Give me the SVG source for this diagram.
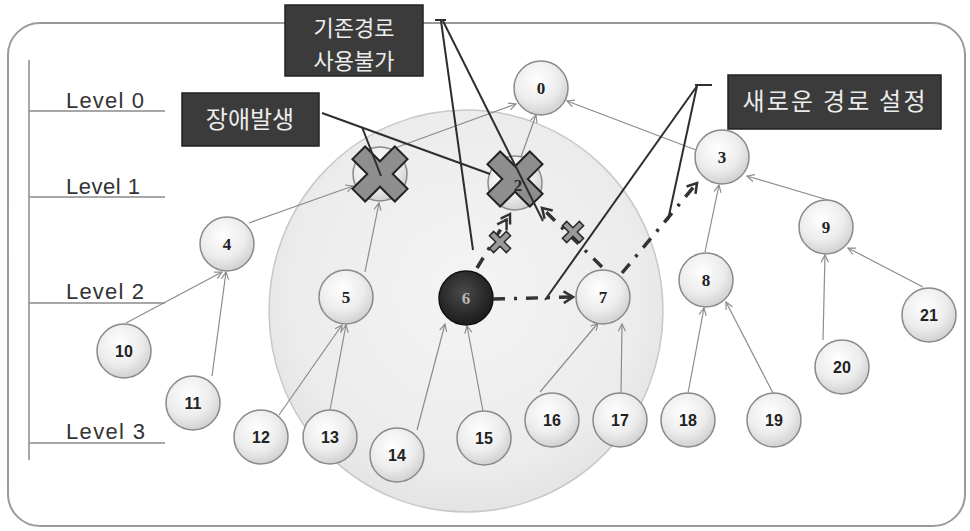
<svg xmlns="http://www.w3.org/2000/svg" width="970" height="531" viewBox="0 0 970 531">
<style>
.lvl{font-family:"Liberation Sans",Arial,sans-serif;font-size:22px;fill:#333}
.lvline{stroke:#8a8a8a;stroke-width:1.5;fill:none}
.edge{stroke:#8c8c8c;stroke-width:1.2;fill:none;marker-end:url(#arr)}
.node{fill:url(#ng);stroke:#8a8a8a;stroke-width:1.5}
.ls{font-family:"Liberation Serif","Times New Roman",serif;font-weight:bold;font-size:17px;fill:#222;text-anchor:middle}
.ln{font-family:"Liberation Sans",Arial,sans-serif;font-weight:bold;font-size:16px;fill:#222;text-anchor:middle}
.dash{stroke:#333;stroke-width:3.5;fill:none;stroke-dasharray:12 9 3 9}
.lead{stroke:#2e2e2e;stroke-width:2;fill:none}
.box{fill:#3b3b3b;stroke:#222;stroke-width:1.5}
.ko{font-family:"Noto Sans CJK KR","Noto Sans CJK SC",sans-serif;font-size:24px;fill:#ececec;text-anchor:middle}
.bigx{fill:#8e8e8e;stroke:#222;stroke-width:2;stroke-linejoin:miter}
.smx{fill:#9a9a9a;stroke:#2a2a2a;stroke-width:1.5}
</style>
<defs>
<radialGradient id="ng" cx="0.42" cy="0.35" r="0.75">
<stop offset="0" stop-color="#ffffff"/>
<stop offset="0.55" stop-color="#ececec"/>
<stop offset="1" stop-color="#c6c6c6"/>
</radialGradient>
<radialGradient id="dg" cx="0.45" cy="0.4" r="0.7">
<stop offset="0" stop-color="#4a4a4a"/>
<stop offset="1" stop-color="#141414"/>
</radialGradient>
<radialGradient id="cg" cx="0.5" cy="0.45" r="0.55">
<stop offset="0" stop-color="#f4f4f4"/>
<stop offset="0.8" stop-color="#ececec"/>
<stop offset="1" stop-color="#e4e4e4"/>
</radialGradient>
<marker id="arr" viewBox="0 0 10 10" refX="9" refY="5" markerWidth="9" markerHeight="9" markerUnits="userSpaceOnUse" orient="auto">
<path d="M1,1 L9,5 L1,9" fill="none" stroke="#8c8c8c" stroke-width="1.3"/>
</marker>
<marker id="chev" viewBox="0 0 12 12" refX="10" refY="6" markerWidth="14" markerHeight="14" markerUnits="userSpaceOnUse" orient="auto">
<path d="M2,1 L10,6 L2,11" fill="none" stroke="#333" stroke-width="2.2"/>
</marker>
<marker id="chev2" viewBox="0 0 18 12" refX="16" refY="6" markerWidth="20" markerHeight="14" markerUnits="userSpaceOnUse" orient="auto">
<path d="M2,1 L10,6 L2,11 M8,1 L16,6 L8,11" fill="none" stroke="#333" stroke-width="2.2"/>
</marker>
<path id="xbig" d="M9,-30 L9,-9 L30,-9 L30,9 L9,9 L9,30 L-9,30 L-9,9 L-30,9 L-30,-9 L-9,-9 L-9,-30 Z" transform="rotate(45)"/>
<path id="xsm" d="M3,-12 L3,-3 L12,-3 L12,3 L3,3 L3,12 L-3,12 L-3,3 L-12,3 L-12,-3 L-3,-3 L-3,-12 Z" transform="rotate(45)"/>
</defs>

<rect x="0" y="0" width="970" height="531" fill="#ffffff"/>
<rect id="frame" x="8" y="23" width="957" height="503" rx="32" ry="32" fill="#ffffff" stroke="#9a9a9a" stroke-width="2"/>

<ellipse id="zone" cx="466" cy="311" rx="197" ry="201" fill="url(#cg)" stroke="#c8c8c8" stroke-width="1.5"/>

<g id="levels">
<line class="lvline" x1="29" y1="60" x2="29" y2="460"/>
<line class="lvline" x1="29" y1="111" x2="165" y2="111"/>
<line class="lvline" x1="29" y1="197" x2="165" y2="197"/>
<line class="lvline" x1="29" y1="303" x2="165" y2="303"/>
<line class="lvline" x1="29" y1="443" x2="165" y2="443"/>
<text class="lvl" x="66" y="108" textLength="78" lengthAdjust="spacing">Level 0</text>
<text class="lvl" x="66" y="194" textLength="74" lengthAdjust="spacing">Level 1</text>
<text class="lvl" x="66" y="299" textLength="78" lengthAdjust="spacing">Level 2</text>
<text class="lvl" x="66" y="439" textLength="79" lengthAdjust="spacing">Level 3</text>
</g>

<g id="connectors">
<line class="edge" x1="395" y1="148" x2="516" y2="104"/>
<line class="edge" x1="521" y1="157" x2="536" y2="115"/>
<line class="edge" x1="696" y1="150" x2="567" y2="101"/>
<line class="edge" x1="249" y1="223" x2="353" y2="186"/>
<line class="edge" x1="365" y1="272" x2="379" y2="203"/>
<line class="edge" x1="126" y1="323" x2="222" y2="272"/>
<line class="edge" x1="212" y1="376" x2="226" y2="272"/>
<line class="edge" x1="279" y1="415" x2="342" y2="325"/>
<line class="edge" x1="330" y1="410" x2="346" y2="325"/>
<line class="edge" x1="417" y1="430" x2="445" y2="324"/>
<line class="edge" x1="483" y1="411" x2="467" y2="326"/>
<line class="edge" x1="540" y1="392" x2="598" y2="323"/>
<line class="edge" x1="621" y1="393" x2="622" y2="324"/>
<line class="edge" x1="705" y1="252" x2="719" y2="185"/>
<line class="edge" x1="838" y1="203" x2="747" y2="176"/>
<line class="edge" x1="688" y1="393" x2="704" y2="308"/>
<line class="edge" x1="773" y1="393" x2="726" y2="302"/>
<line class="edge" x1="823" y1="340" x2="825" y2="255"/>
<line class="edge" x1="923" y1="287" x2="848" y2="248"/>
</g>

<g id="n0"><circle class="node" cx="541" cy="88" r="27"/><text class="ls" x="541" y="94">0</text></g>
<g id="n1"><circle class="node" cx="380" cy="174" r="27"/><use href="#xbig" x="380" y="174" class="bigx"/></g>
<g id="n2"><circle class="node" cx="515" cy="183" r="27"/><use href="#xbig" x="515" y="179" class="bigx"/><text class="ls" x="518" y="191" style="fill:#2a2a2a">2</text></g>
<g id="n3"><circle class="node" cx="722" cy="157" r="27"/><text class="ls" x="722" y="163">3</text></g>
<g id="n4"><circle class="node" cx="227" cy="244" r="27"/><text class="ls" x="227" y="250">4</text></g>
<g id="n5"><circle class="node" cx="346" cy="297" r="27"/><text class="ls" x="346" y="303">5</text></g>
<g id="n6"><circle cx="466" cy="298" r="27" fill="url(#dg)" stroke="#111" stroke-width="1.5"/><text class="ls" x="466" y="304" style="fill:#b8b8b8">6</text></g>
<g id="n7"><circle class="node" cx="603" cy="297" r="27"/><text class="ls" x="603" y="303">7</text></g>
<g id="n8"><circle class="node" cx="706" cy="280" r="27"/><text class="ls" x="706" y="286">8</text></g>
<g id="n9"><circle class="node" cx="826" cy="227" r="27"/><text class="ls" x="826" y="233">9</text></g>
<g id="n10"><circle class="node" cx="124" cy="351" r="27"/><text class="ln" x="124" y="357">10</text></g>
<g id="n11"><circle class="node" cx="193" cy="403" r="27"/><text class="ln" x="193" y="409">11</text></g>
<g id="n12"><circle class="node" cx="261" cy="437" r="27"/><text class="ln" x="261" y="443">12</text></g>
<g id="n13"><circle class="node" cx="330" cy="437" r="27"/><text class="ln" x="330" y="443">13</text></g>
<g id="n14"><circle class="node" cx="397" cy="455" r="27"/><text class="ln" x="397" y="461">14</text></g>
<g id="n15"><circle class="node" cx="484" cy="438" r="27"/><text class="ln" x="484" y="444">15</text></g>
<g id="n16"><circle class="node" cx="552" cy="420" r="27"/><text class="ln" x="552" y="426">16</text></g>
<g id="n17"><circle class="node" cx="620" cy="420" r="27"/><text class="ln" x="620" y="426">17</text></g>
<g id="n18"><circle class="node" cx="688" cy="420" r="27"/><text class="ln" x="688" y="426">18</text></g>
<g id="n19"><circle class="node" cx="774" cy="420" r="27"/><text class="ln" x="774" y="426">19</text></g>
<g id="n20"><circle class="node" cx="842" cy="367" r="27"/><text class="ln" x="842" y="373">20</text></g>
<g id="n21"><circle class="node" cx="929" cy="315" r="27"/><text class="ln" x="929" y="321">21</text></g>

<g id="paths">
<path class="dash" d="M477,268 L510,214" style="marker-end:url(#chev2)"/>
<path class="dash" d="M602,267 L542,208" style="marker-end:url(#chev)"/>
<path class="dash" d="M493,299 L573,297" style="marker-end:url(#chev)"/>
<path class="dash" d="M622,273 L697,183" style="marker-end:url(#chev)"/>
<use href="#xsm" x="500" y="242" class="smx"/>
<use href="#xsm" x="573" y="232" class="smx"/>
</g>

<g id="leaders">
<path class="lead" d="M435,20 L446,20"/>
<path class="lead" d="M441,21 L473,250"/>
<path class="lead" d="M443,21 L543,221"/>
<path class="lead" d="M322,113 L490,174"/>
<path class="lead" d="M362,127 L381,176"/>
<path class="lead" d="M695,85 L712,85"/>
<path class="lead" d="M697,86 L545,300"/>
<path class="lead" d="M697,86 L668,220"/>
</g>

<g id="c1"><rect class="box" x="285" y="5" width="138" height="71"/><text class="ko" x="354" y="36" style="font-size:22px">기존경로</text><text class="ko" x="354" y="69" style="font-size:22px">사용불가</text></g>
<g id="c2"><rect class="box" x="182" y="93" width="137" height="53"/><text class="ko" x="250" y="128">장애발생</text></g>
<g id="c3"><rect class="box" x="728" y="75" width="213" height="54"/><text class="ko" x="834" y="110" textLength="183" lengthAdjust="spacing">새로운 경로 설정</text></g>
</svg>
